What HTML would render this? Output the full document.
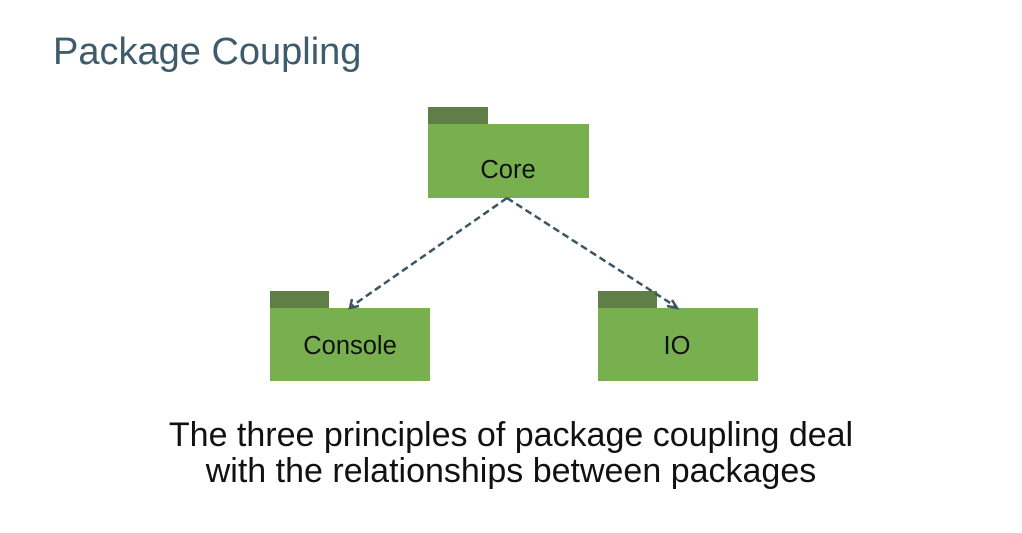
<!DOCTYPE html>
<html><head><style>
body{margin:0;width:1022px;height:533px;background:#fff;position:relative;overflow:hidden;font-family:"Liberation Sans",sans-serif}
.t{position:absolute;left:53px;top:31px;font-size:38px;color:#3e5b6b}
.b{position:absolute;left:0;width:1022px;top:417px;text-align:center;font-size:34px;line-height:36px;color:#111}
</style></head><body>
<div class="t">Package Coupling</div>
<svg width="1022" height="533" style="position:absolute;left:0;top:0">
<g fill="#5f7f47"><rect x="428" y="107" width="60" height="17"/><rect x="270" y="291" width="59" height="17"/><rect x="598" y="291" width="59" height="17"/></g>
<g fill="#79b04f"><rect x="428" y="124" width="161" height="74"/><rect x="270" y="308" width="160" height="73"/><rect x="598" y="308" width="160" height="73"/></g>
<g stroke="#3b5563" stroke-width="2.5" stroke-dasharray="7,4" fill="none"><line x1="507" y1="198" x2="352" y2="306"/><line x1="507" y1="198" x2="675" y2="306"/></g>
<g stroke="#3b5563" stroke-width="2.5" fill="none"><polyline points="352,299 350,308 359,306"/><polyline points="667,306 677,308 672,300"/></g>
<g font-size="25.5" fill="#111" text-anchor="middle"><text x="508" y="178">Core</text><text x="350" y="354">Console</text><text x="677" y="354">IO</text></g>
</svg>
<div class="b">The three principles of package coupling deal<br>with the relationships between packages</div>
</body></html>
